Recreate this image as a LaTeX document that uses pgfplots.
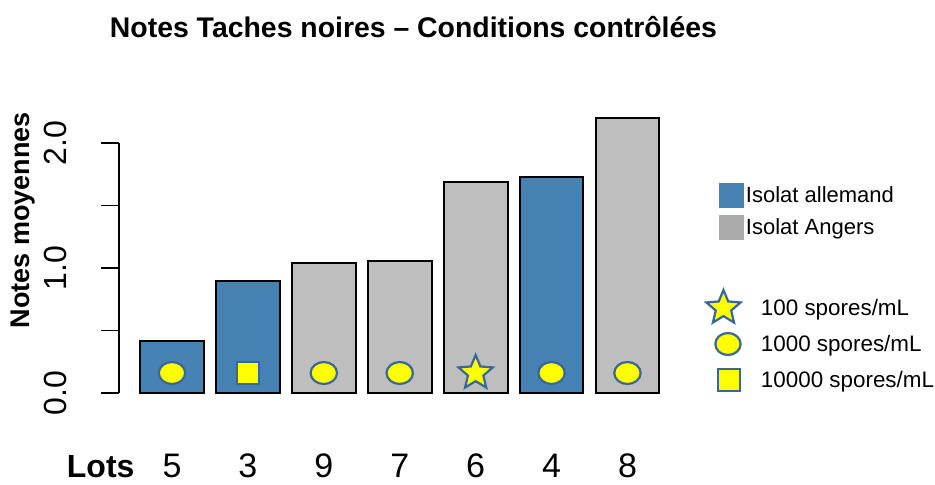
\documentclass[border=0pt]{standalone}
\usepackage{fontspec}
\setmainfont{Liberation Sans}
\usepackage{pgfplots}
\pgfplotsset{compat=1.18}
\definecolor{barblue}{RGB}{70,130,180}
\definecolor{bargray}{RGB}{190,190,190}
\definecolor{leggray}{RGB}{170,170,170}
\definecolor{mkblue}{RGB}{58,103,154}
\definecolor{mkyellow}{RGB}{255,255,0}
\pgfdeclareplotmark{fstar}{%
  \pgfpathmoveto{\pgfpointpolar{90}{\pgfplotmarksize}}%
  \pgfpathlineto{\pgfpointpolar{126}{0.45\pgfplotmarksize}}%
  \pgfpathlineto{\pgfpointpolar{162}{\pgfplotmarksize}}%
  \pgfpathlineto{\pgfpointpolar{198}{0.45\pgfplotmarksize}}%
  \pgfpathlineto{\pgfpointpolar{234}{\pgfplotmarksize}}%
  \pgfpathlineto{\pgfpointpolar{270}{0.45\pgfplotmarksize}}%
  \pgfpathlineto{\pgfpointpolar{306}{\pgfplotmarksize}}%
  \pgfpathlineto{\pgfpointpolar{342}{0.45\pgfplotmarksize}}%
  \pgfpathlineto{\pgfpointpolar{18}{\pgfplotmarksize}}%
  \pgfpathlineto{\pgfpointpolar{54}{0.45\pgfplotmarksize}}%
  \pgfpathclose
  \pgfusepathqfillstroke
}
\begin{document}
\begin{tikzpicture}
\useasboundingbox (0,0) rectangle (467.5pt,242pt);
\begin{axis}[
  at={(59.5pt,45.5pt)}, anchor=south west,
  scale only axis, width=273.2pt, height=125pt,
  xmin=0.3017, xmax=7.5, ymin=0, ymax=2,
  clip=false,
  axis y line*=left, axis x line*=bottom,
  x axis line style={draw=none},
  y axis line style={line width=0.9pt, black},
  xtick={1,2,3,4,5,6,7}, xticklabels={5,3,9,7,6,4,8},
  xtick style={draw=none},
  ytick={0,0.5,1,1.5,2}, yticklabels={0.0,{},1.0,{},2.0},
  ytick style={line width=0.9pt, black},
  tick align=outside, major tick length=9pt,
  yticklabel style={rotate=90, anchor=base, inner sep=0pt, yshift=17.5pt,
    font=\fontsize{16}{18}\selectfont},
  xticklabel style={anchor=base, inner sep=0pt, yshift=-33.3pt,
    font=\fontsize{17}{20}\selectfont},
  title={Notes Taches noires – Conditions contrôlées},
  title style={at={(axis description cs:0.539,1.416)}, anchor=center, inner sep=0pt,
    font=\bfseries\fontsize{14.2}{16}\selectfont},
  ylabel={Notes moyennes},
  ylabel style={at={(axis description cs:-0.1755,0.692)}, anchor=center, inner sep=0pt,
    font=\bfseries\fontsize{13.5}{16}\selectfont},
  xlabel={Lots},
  xlabel style={at={(axis description cs:0.029,0)}, anchor=base east, inner sep=0pt,
    yshift=-42.3pt, font=\bfseries\fontsize{16}{20}\selectfont},
  legend style={at={(1.07494,0.856)}, anchor=north west, draw=none, fill=none,
    inner sep=0pt, outer sep=0pt, column sep=0pt, row sep=0pt,
    nodes={inner sep=0.5pt, text height=0.8em, text depth=0.1em}},
  legend cell align=left,
]
\addplot[ybar, bar width=0.84, bar shift=0pt, fill=barblue, draw=black, line width=1pt, forget plot]
  coordinates {(1,0.42) (2,0.90) (6,1.73)};
\addplot[ybar, bar width=0.84, bar shift=0pt, fill=bargray, draw=black, line width=1pt, forget plot]
  coordinates {(3,1.04) (4,1.06) (5,1.69) (7,2.20)};
\addplot[only marks, mark=*, mark size=5.5pt,
  mark options={xscale=1.2, draw=mkblue, fill=mkyellow, line width=1.1pt}, forget plot]
  coordinates {(1,0.16) (3,0.16) (4,0.16) (6,0.16) (7,0.16)};
\addplot[only marks, mark=square*, mark size=5.6pt,
  mark options={draw=mkblue, fill=mkyellow, line width=1.1pt}, forget plot]
  coordinates {(2,0.16)};
\addplot[only marks, mark=fstar, mark size=9pt,
  mark options={draw=mkblue, fill=mkyellow, line width=1.1pt}, forget plot]
  coordinates {(5,0.16)};
\addlegendimage{legend image code/.code={\path[draw=none,fill=none] (0pt,-8pt) rectangle (26pt,8pt);
  \fill[barblue] (5.5pt,-6pt) rectangle (17.5pt,6pt);}}
\addlegendentry{\hspace*{-7.5pt}\fontsize{11}{13}\selectfont Isolat allemand}
\addlegendimage{legend image code/.code={\path[draw=none,fill=none] (0pt,-8pt) rectangle (26pt,8pt);
  \fill[leggray] (5.5pt,-6pt) rectangle (17.5pt,6pt);}}
\addlegendentry{\hspace*{-7.5pt}\fontsize{11}{13}\selectfont Isolat Angers}
\addlegendimage{legend image code/.code={\path[draw=none,fill=none] (0pt,-11.75pt) rectangle (26pt,11.75pt);}}
\addlegendentry{}
\addlegendimage{legend image code/.code={\path[draw=none,fill=none] (0pt,-9pt) rectangle (26pt,9pt);
  \draw[mark=fstar, mark size=9pt, mark options={draw=mkblue, fill=mkyellow, line width=1.1pt}]
    plot coordinates {(7.75pt,0pt)};}}
\addlegendentry{\fontsize{11.2}{13}\selectfont 100 spores/mL}
\addlegendimage{legend image code/.code={\path[draw=none,fill=none] (0pt,-9pt) rectangle (26pt,9pt);
  \draw[mark=*, mark size=5.5pt, mark options={xscale=1.15, draw=mkblue, fill=mkyellow, line width=1.1pt}]
    plot coordinates {(10pt,0pt)};}}
\addlegendentry{\fontsize{11.2}{13}\selectfont 1000 spores/mL}
\addlegendimage{legend image code/.code={\path[draw=none,fill=none] (0pt,-9pt) rectangle (26pt,9pt);
  \draw[mark=square*, mark size=5.6pt, mark options={draw=mkblue, fill=mkyellow, line width=1.1pt}]
    plot coordinates {(10.5pt,0pt)};}}
\addlegendentry{\fontsize{11.2}{13}\selectfont 10000 spores/mL}
\end{axis}
\end{tikzpicture}
\end{document}
